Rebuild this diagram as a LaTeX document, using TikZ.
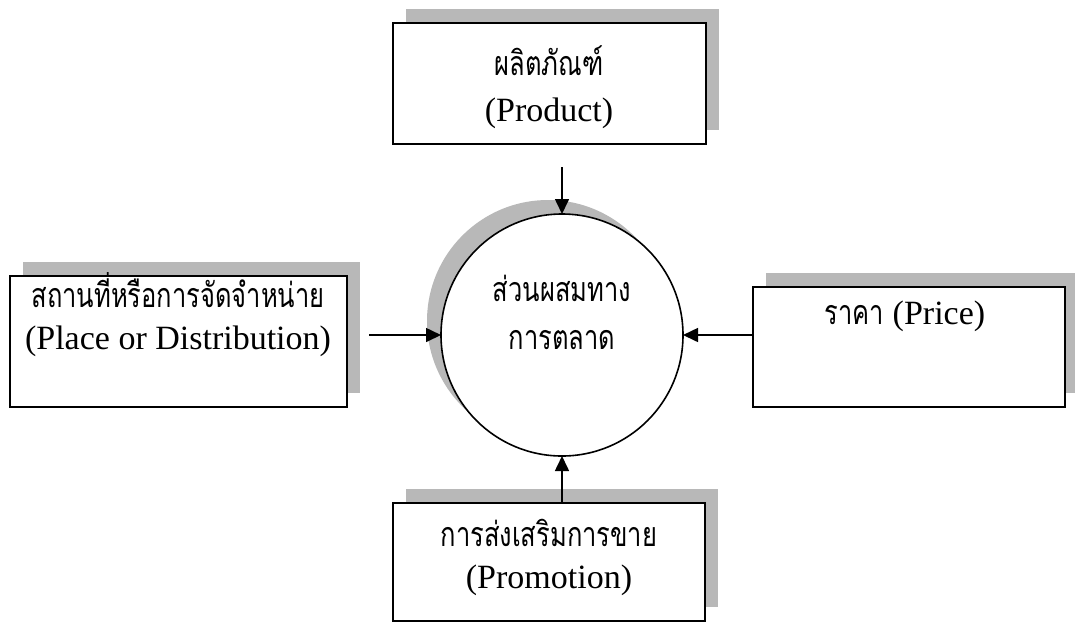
\documentclass[tikz,border=0pt]{standalone}
\usepackage{fontspec}
\setmainfont{Liberation Serif}
\newfontfamily\thaifont[Script=Thai,Scale=1.0,FakeStretch=0.75]{Loma}
\usetikzlibrary{
  arrows.meta,
  positioning,
  shadows
}
\tikzset{
  % For the four boxes round the mix.
  mix box/.style={
    draw,
    line width=1pt,
    fill=white,
    rectangle,
    inner sep=0pt,
    outer sep=0pt,
    drop shadow={shadow xshift=6.5pt, shadow yshift=7pt,
                 fill=black!28, opacity=1}},
%
  % For the marketing mix in the middle.
  mix circle/.style={
    draw,
    line width=0.8pt,
    fill=white,
    circle,
    minimum size=121pt,
    inner sep=0pt,
    outer sep=0pt,
    drop shadow={shadow xshift=-7pt, shadow yshift=7pt,
                 fill=black!28, opacity=1}},
%
  % For the texts.
  label text/.style={
    align=center,
    inner sep=0pt,
    font=\fontsize{17}{19}\selectfont},
%
  % For the arrows into the circle.
  feed/.style={
    line width=0.8pt,
    -{Triangle[length=7.5pt,width=7pt]}},
}

\begin{document}
\begin{tikzpicture}[x=0.5pt,y=-0.5pt]
  \useasboundingbox (0,0) rectangle (1075,623);

  \node[mix box, minimum width=156.5pt, minimum height=60.5pt]
    (product) at (549.5,83.5) {};
  \node[mix box, minimum width=168.5pt, minimum height=65.5pt]
    (place) at (178.5,341.5) {};
  \node[mix box, minimum width=156pt, minimum height=60pt]
    (price) at (909,347) {};
  \node[mix box, minimum width=156pt, minimum height=59pt]
    (promotion) at (549,562) {};

  \node[mix circle] (mix) at (562,335) {};

  \node[label text] (product text) at (549,87)
    {{\thaifont ผลิตภัณฑ์}\\[4pt](Product)};
  \node[label text] (place text) at (178,315)
    {{\thaifont สถานที่หรือการจัดจำหน่าย}\\[2pt](Place or Distribution)};
  \node[label text] (price text) at (905,316)
    {{\thaifont ราคา} (Price)};
  \node[label text] (promotion text) at (549,557)
    {{\thaifont การส่งเสริมการขาย}\\[2pt](Promotion)};
  \node[label text] (mix text) at (562,312)
    {{\thaifont ส่วนผสมทาง}\\[5pt]{\thaifont การตลาด}};

  \coordinate (product end) at (562,167);
  \coordinate (place end) at (369,335);

  \draw[feed] (product end) -- (mix.north);
  \draw[feed] (place end) -- (mix.west);
  \draw[feed] (price.west |- mix) -- (mix.east);
  \draw[feed] (promotion.north -| mix) -- (mix.south);
\end{tikzpicture}
\end{document}
